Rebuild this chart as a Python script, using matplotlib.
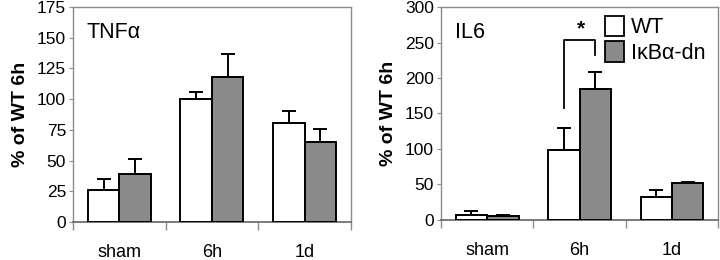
import matplotlib
matplotlib.use("Agg")
import matplotlib.pyplot as plt
import numpy as np
from matplotlib.patches import Patch

plt.rcParams['font.family'] = ['Liberation Sans', 'DejaVu Sans']

categories = ["sham", "6h", "1d"]
series = ["WT", "I\u03baB\u03b1-dn"]

tnf_wt = [26, 100, 81]
tnf_wt_err = [9, 5.5, 9.5]
tnf_dn = [39, 118, 65]
tnf_dn_err = [12, 18.5, 11]

il6_wt = [7, 99, 33]
il6_wt_err = [5, 30, 9]
il6_dn = [5, 185, 52]
il6_dn_err = [2, 24, 2]

fig = plt.figure(figsize=(7.2, 2.6), dpi=100)
ax1 = fig.add_axes([0.1014, 0.146, 0.386, 0.827])
ax2 = fig.add_axes([0.6125, 0.154, 0.385, 0.819])

frame_col = '#8c8c8c'
gray_fill = '#8a8a8a'
w = 0.34

def draw(ax, wt, wte, dn, dne, ymax, step, title):
    x = np.arange(len(categories))
    ax.bar(x - w/2, wt, w, color='white', edgecolor='black', linewidth=1.4, zorder=3)
    ax.bar(x + w/2, dn, w, color=gray_fill, edgecolor='black', linewidth=1.4, zorder=3)
    ax.errorbar(x - w/2, wt, yerr=[np.zeros(3), wte], fmt='none', ecolor='black',
                elinewidth=1.4, capsize=5, capthick=1.4, zorder=4)
    ax.errorbar(x + w/2, dn, yerr=[np.zeros(3), dne], fmt='none', ecolor='black',
                elinewidth=1.4, capsize=5, capthick=1.4, zorder=4)
    ax.set_xlim(-0.5, 2.5)
    ax.set_ylim(0, ymax)
    ax.set_yticks(np.arange(0, ymax + 1, step))
    ax.set_xticks(x)
    ax.set_xticklabels(categories, fontsize=13)
    ax.set_xticks([-0.5, 0.5, 1.5, 2.5], minor=True)
    ax.tick_params(axis='x', which='major', length=0, pad=16)
    ax.tick_params(axis='x', which='minor', length=6, color=frame_col, width=1)
    ax.tick_params(axis='y', length=3, color=frame_col, labelsize=12.5, pad=2)
    for s in ax.spines.values():
        s.set_color(frame_col)
        s.set_linewidth(1)
    ax.spines['bottom'].set_color('#707070')
    ax.spines['bottom'].set_linewidth(1.3)
    ax.set_ylabel("% of WT 6h", fontsize=14, fontweight='bold', labelpad=6)
    ax.text(0.05, 0.93, title, transform=ax.transAxes, fontsize=15.5,
            ha='left', va='top')

draw(ax1, tnf_wt, tnf_wt_err, tnf_dn, tnf_dn_err, 175, 25, "TNF\u03b1")
draw(ax2, il6_wt, il6_wt_err, il6_dn, il6_dn_err, 300, 50, "IL6")

# significance bracket
xl = 1 - w/2
xr = 1 + w/2
ax2.plot([xl, xl, xr, xr], [158, 253, 253, 232], color='black', lw=1.3, zorder=5)
ax2.text(1.02, 256, "*", ha='center', va='bottom', fontsize=15, fontweight='bold')

handles = [Patch(facecolor='white', edgecolor='black', linewidth=1.3),
           Patch(facecolor=gray_fill, edgecolor='black', linewidth=1.3)]
ax2.legend(handles, series, loc='upper left', bbox_to_anchor=(0.56, 1.0),
           frameon=False, fontsize=15.5, handlelength=0.9, handleheight=1.1,
           handletextpad=0.3, labelspacing=0.12, borderaxespad=0.2,
           borderpad=0.2)

fig.savefig("out.png", dpi=100)
